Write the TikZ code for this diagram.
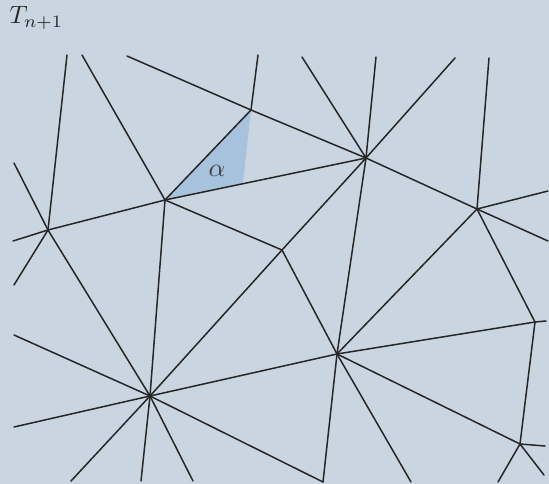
\documentclass[tikz,border=0pt]{standalone}
\begin{document}
\begin{tikzpicture}[x=1pt,y=-1pt,
  edge/.style={draw=black!85, line width=1.5pt, line cap=round},
  lbl/.style={inner sep=0pt}]
\definecolor{bgcol}{RGB}{201,214,225}
\definecolor{shadecol}{RGB}{166,194,221}
\fill[bgcol] (0,0) rectangle (549,484);
\useasboundingbox (0,0) rectangle (549,484);
% vertices
\coordinate (A) at (251,110);
\coordinate (B) at (165,200);
\coordinate (C) at (48,230);
\coordinate (D) at (366,158);
\coordinate (E) at (477,209);
\coordinate (F) at (150,396);
\coordinate (G) at (337,354);
\coordinate (H) at (282,250);
\coordinate (I) at (535,322);
\coordinate (J) at (520,444);
\coordinate (K) at (323,482);
\coordinate (S) at (243,183);
% free ends
\coordinate (t1) at (67,55);
\coordinate (t2) at (82,55);
\coordinate (t3) at (127,56);
\coordinate (t4) at (258,55);
\coordinate (t5) at (302,57);
\coordinate (t6) at (376,57);
\coordinate (t7) at (455,58);
\coordinate (t8) at (489,58);
\coordinate (l1) at (14,163);
\coordinate (l2) at (13,241);
\coordinate (l3) at (14,285);
\coordinate (l4) at (14,335);
\coordinate (l5) at (14,427);
\coordinate (b1) at (71,481);
\coordinate (b2) at (141,481);
\coordinate (b3) at (193,481);
\coordinate (b4) at (411,482);
\coordinate (b5) at (498,482);
\coordinate (r1) at (548,191);
\coordinate (r2) at (548,241);
\coordinate (r3) at (546,321);
\coordinate (r4) at (545,446);
\coordinate (r5) at (544,475);
% shaded angle
\fill[shadecol] (A) -- (B) -- (S) -- cycle;
% edges
\draw[edge] (C) -- (t1);
\draw[edge] (C) -- (l1);
\draw[edge] (C) -- (l2);
\draw[edge] (C) -- (l3);
\draw[edge] (C) -- (F);
\draw[edge] (C) -- (B);
\draw[edge] (B) -- (t2);
\draw[edge] (B) -- (A);
\draw[edge] (B) -- (D);
\draw[edge] (B) -- (H);
\draw[edge] (B) -- (F);
\draw[edge] (A) -- (t3);
\draw[edge] (A) -- (t4);
\draw[edge] (A) -- (D);
\draw[edge] (D) -- (t5);
\draw[edge] (D) -- (t6);
\draw[edge] (D) -- (t7);
\draw[edge] (D) -- (E);
\draw[edge] (D) -- (H);
\draw[edge] (D) -- (G);
\draw[edge] (E) -- (t8);
\draw[edge] (E) -- (r1);
\draw[edge] (E) -- (r2);
\draw[edge] (E) -- (G);
\draw[edge] (E) -- (I);
\draw[edge] (H) -- (F);
\draw[edge] (H) -- (G);
\draw[edge] (F) -- (l4);
\draw[edge] (F) -- (l5);
\draw[edge] (F) -- (b1);
\draw[edge] (F) -- (b2);
\draw[edge] (F) -- (b3);
\draw[edge] (F) -- (G);
\draw[edge] (F) -- (K);
\draw[edge] (G) -- (K);
\draw[edge] (G) -- (b4);
\draw[edge] (G) -- (I);
\draw[edge] (G) -- (J);
\draw[edge] (I) -- (r3);
\draw[edge] (I) -- (J);
\draw[edge] (J) -- (r4);
\draw[edge] (J) -- (r5);
\draw[edge] (J) -- (b5);
% labels
\node[lbl, anchor=base west, text=black!85, scale=2.5] (title) at (9,24) {$T_{n+1}$};
\node[lbl, text=black!75, scale=2.6] (alpha) at (217,171) {$\alpha$};
\end{tikzpicture}
\end{document}
